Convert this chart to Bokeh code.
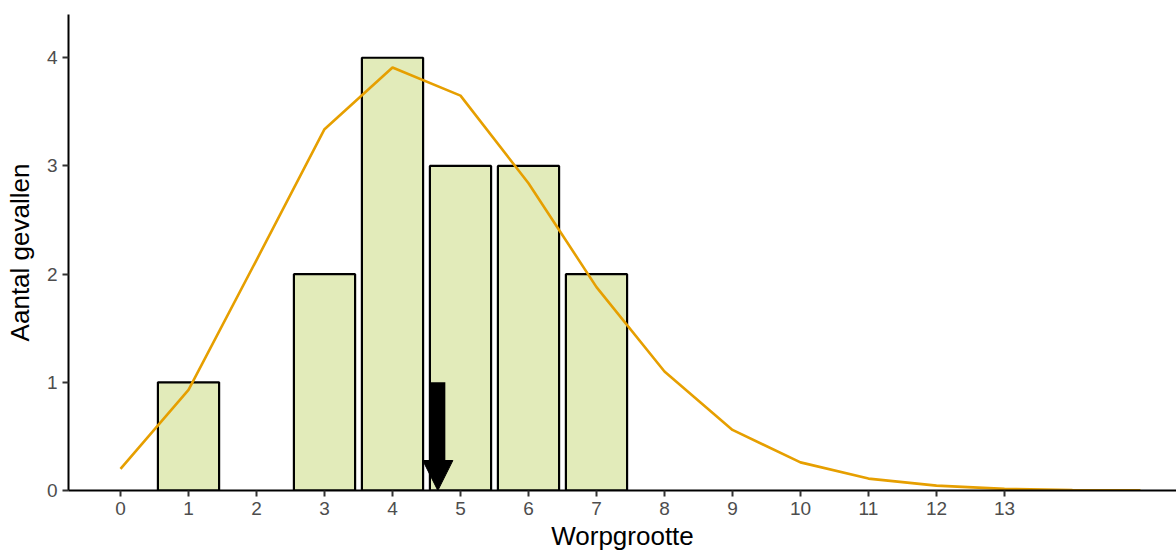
from bokeh.plotting import figure
from bokeh.models import Range1d, FixedTicker, Arrow, NormalHead, ColumnDataSource
from bokeh.embed import file_html
from bokeh.resources import INLINE

# Observed litter sizes and how often each occurred
litter_size = [1, 3, 4, 5, 6, 7]
n_cases = [1, 2, 4, 3, 3, 2]

# Expected number of cases per litter size (fitted curve)
fit_size = [0, 1, 2, 3, 4, 5, 6, 7, 8, 9, 10, 11, 12, 13, 14, 15]
fit_cases = [0.20, 0.93, 2.13, 3.34, 3.91, 3.65, 2.84, 1.88, 1.10,
             0.56, 0.26, 0.11, 0.045, 0.015, 0.005, 0.001]

x_ticks = list(range(0, 14))
y_ticks = [0, 1, 2, 3, 4]

# Mean litter size, marked with an arrow
mean_size = sum(s * n for s, n in zip(litter_size, n_cases)) / sum(n_cases)

FONT = "Liberation Sans"

p = figure(width=1176, height=553, output_backend="svg", toolbar_location=None,
           x_range=Range1d(-0.765, 15.53), y_range=Range1d(0, 4.4),
           min_border_left=68, min_border_top=14, min_border_right=0,
           min_border_bottom=0)
p.background_fill_color = "white"
p.border_fill_color = "white"
p.outline_line_color = None
p.xgrid.visible = False
p.ygrid.visible = False

bars = ColumnDataSource(dict(x=litter_size, top=n_cases))
p.vbar(x="x", top="top", bottom=0, width=0.9, source=bars,
       fill_color="#e2ebba", line_color="black", line_width=2.2)

p.line(fit_size, fit_cases, line_color="#e69f00", line_width=2.6)

p.add_layout(Arrow(end=NormalHead(size=30, fill_color="black", line_color="black", line_width=1),
                   x_start=mean_size, y_start=1, x_end=mean_size, y_end=0,
                   line_color="black", line_width=15, line_cap="butt"))

for ax in (p.xaxis[0], p.yaxis[0]):
    ax.axis_line_color = "black"
    ax.axis_line_width = 2
    ax.major_tick_line_color = "#333333"
    ax.major_tick_line_width = 2
    ax.major_tick_out = 6
    ax.major_tick_in = 0
    ax.minor_tick_line_color = None
    ax.major_label_text_font = FONT
    ax.major_label_text_font_size = "19px"
    ax.major_label_text_color = "#4d4d4d"
    ax.axis_label_text_font = FONT
    ax.axis_label_text_font_size = "26px"
    ax.axis_label_text_font_style = "normal"
    ax.axis_label_text_color = "black"
    ax.major_label_standoff = 5

p.xaxis.ticker = FixedTicker(ticks=x_ticks)
p.yaxis.ticker = FixedTicker(ticks=y_ticks)
p.xaxis.axis_label = "Worpgrootte"
p.yaxis.axis_label = "Aantal gevallen"
p.xaxis.axis_label_standoff = 3
p.yaxis.axis_label_standoff = 9

open("out.html", "w").write(file_html(p, INLINE))
